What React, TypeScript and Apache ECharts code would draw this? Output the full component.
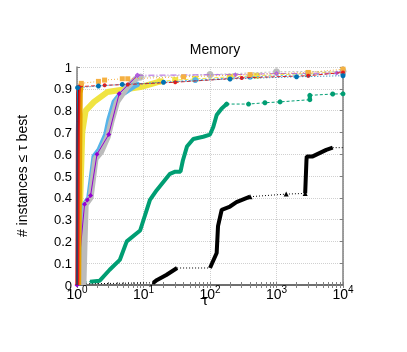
import React, { useEffect, useRef } from "react";
import * as echarts from "echarts";

// tick values
const xTickValues = [1, 2, 3, 4, 5, 6, 7, 8, 9, 10, 20, 30, 40, 50, 60, 70, 80, 90, 100, 200, 300, 400, 500, 600, 700, 800, 900, 1000, 2000, 3000, 4000, 5000, 6000, 7000, 8000, 9000, 10000];
const xLabelValues = [1, 10, 100, 1000, 10000];

// series data [tau, fraction]
const darkBlueDense = [[1, 0], [1, 0.75], [1.02, 0.9]];
const darkBlueTail = [[1.02, 0.905], [2.1, 0.913], [4.8, 0.92], [20, 0.93], [200, 0.945], [2000, 0.955], [10000, 0.96]];

const darkRedDense = [[1, 0], [1.005, 0.6], [1.02, 0.88], [1.03, 0.905]];

const redDense = [[1.01, 0], [1.02, 0.3], [1.03, 0.7], [1.05, 0.88], [1.07, 0.91]];
const redTail = [[1.07, 0.91], [2.6, 0.916], [5.8, 0.92], [30, 0.93], [300, 0.95], [3000, 0.96], [10000, 0.975]];

const orangeDense = [[1.06, 0], [1.09, 0.5], [1.12, 0.88], [1.16, 0.925]];
const orangeTail = [[1.16, 0.925], [2.1, 0.934], [2.6, 0.94], [4.8, 0.946], [5.8, 0.946], [40, 0.955], [400, 0.965], [3000, 0.975], [10000, 0.99]];

const yellowDense = [[1.09, 0], [1.12, 0.4], [1.2, 0.7], [1.27, 0.75], [1.35, 0.8], [1.8, 0.84], [2.85, 0.885], [9, 0.908], [18, 0.934]];
const yellowTail = [[18, 0.934], [30, 0.94], [60, 0.945], [200, 0.955], [500, 0.96], [3000, 0.97], [10000, 0.98]];

const skyDense = [[1.2, 0], [1.25, 0.2], [1.27, 0.367], [1.5, 0.4], [1.8, 0.59], [2.14, 0.62], [2.7, 0.69], [3.0, 0.757], [3.6, 0.84], [4.5, 0.877], [5.1, 0.88], [8, 0.92]];
const skyTail = [[8, 0.92], [60, 0.94], [400, 0.955], [3000, 0.965], [10000, 0.97]];

const grayDense = [[1.25, 0], [1.3, 0.2], [1.35, 0.37], [1.6, 0.4], [1.9, 0.58], [2.3, 0.61], [2.9, 0.68], [3.3, 0.75], [4.0, 0.84], [5.7, 0.908], [7.6, 0.946], [9, 0.954]];
const grayTail = [[9, 0.954], [100, 0.965], [1000, 0.978], [10000, 0.98]];

const purpleDense = [[1, 0], [1.3, 0.37], [1.43, 0.39], [1.6, 0.41], [2.0, 0.6], [3.0, 0.69], [4.3, 0.877], [8.1, 0.962]];
const purpleTail = [[8.1, 0.962], [240, 0.965], [1000, 0.97], [8000, 0.972], [10000, 0.985]];

const greenLead = [[1, 0.01], [1.57, 0.015]];
const greenDense = [[1.57, 0.015], [2.2, 0.02], [3.1, 0.07], [4.4, 0.115], [5.6, 0.2], [8.9, 0.25], [12.5, 0.39], [15.8, 0.435], [25, 0.51], [30, 0.52], [36, 0.52], [39, 0.57], [45, 0.635], [56, 0.67], [79, 0.68], [100, 0.69], [112, 0.725], [126, 0.78], [150, 0.81], [178, 0.83]];
const greenTail = [[178, 0.83], [380, 0.83], [670, 0.836], [1130, 0.84], [3170, 0.85]];
const greenDense2 = [[3170, 0.85], [3170, 0.87]];
const greenTail2 = [[3170, 0.87], [7000, 0.876], [10000, 0.877]];

const blackLead = [[1, 0.005], [14, 0.01]];
const blackDense1 = [[14, 0.01], [16, 0.023], [22, 0.046], [32, 0.078]];
const blackTail1 = [[32, 0.078], [100, 0.078]];
const blackDense2 = [[100, 0.078], [126, 0.147], [132, 0.27], [150, 0.345], [200, 0.36], [250, 0.38], [400, 0.405]];
const blackTail2 = [[400, 0.405], [1400, 0.417], [2700, 0.42]];
const blackDense3 = [[2700, 0.42], [2820, 0.57], [2850, 0.59], [3500, 0.59], [5600, 0.62], [7000, 0.63]];
const blackTail3 = [[7000, 0.63], [10000, 0.63]];

const solid = (data: number[][], color: string, width: number, z: number) => ({
  type: "line",
  data,
  showSymbol: false,
  symbol: "none",
  lineStyle: { color, width, type: "solid" },
  z,
});

const tail = (data: number[][], color: string, lineType: any, symbol: string, size: number, z: number) => ({
  type: "line",
  data,
  symbol,
  symbolSize: size,
  showSymbol: true,
  itemStyle: { color },
  lineStyle: { color, width: 1, type: lineType },
  z,
});

export default function App() {
  const ref = useRef<HTMLDivElement>(null);
  useEffect(() => {
    if (!ref.current) return;
    const chart = echarts.init(ref.current, undefined, { renderer: "svg" });
    const font = "Liberation Sans";
    const axisLine = { show: true, lineStyle: { color: "#808080", width: 1.5 } };
    const xLabelFmt = (v: number) => `{b|10}{s|${Math.round(Math.log10(v))}}`;
    const gridLine = { show: true, lineStyle: { color: "#d0d0d0", type: "dotted", width: 1 } };
    chart.setOption({
      animation: false,
      textStyle: { fontFamily: font },
      title: {
        text: "Memory",
        left: 210,
        textAlign: "center",
        top: 37,
        textStyle: { fontSize: 14, fontWeight: "normal", color: "#000", fontFamily: font },
      },
      grid: { left: 77, right: 64, top: 67, bottom: 67 },
      xAxis: [
        {
          type: "log",
          logBase: 10,
          min: 1,
          max: 10000,
          position: "bottom",
          name: "τ",
          nameLocation: "middle",
          nameGap: 7,
          nameMoveOverlap: false,
          nameTextStyle: { fontSize: 15, color: "#000", fontFamily: font, padding: [0, 10, 0, 0] },
          axisLine,
          axisTick: { show: true, inside: true, length: 3, customValues: xTickValues, lineStyle: { color: "#808080" } },
          axisLabel: {
            customValues: xLabelValues,
            formatter: xLabelFmt,
            margin: -1,
            rich: {
              b: { fontSize: 14, color: "#000", fontFamily: font, verticalAlign: "bottom", lineHeight: 17 },
              s: { fontSize: 10, color: "#000", fontFamily: font, verticalAlign: "top", lineHeight: 10 },
            },
          },
          splitLine: { show: false },
        },
        {
          type: "log",
          logBase: 10,
          min: 1,
          max: 10000,
          position: "top",
          axisLine: { show: true, lineStyle: { color: "#606060", width: 1.5 } },
          axisTick: { show: true, inside: true, length: 3, customValues: xTickValues, lineStyle: { color: "#808080" } },
          axisLabel: { show: false },
          splitLine: { show: false },
        },
        {
          type: "log",
          logBase: 10,
          min: 1,
          max: 10000,
          position: "top",
          axisLine: { show: false },
          axisTick: { show: false },
          axisLabel: { show: false },
          splitLine: gridLine,
        },
      ],
      yAxis: [
        {
          type: "value",
          min: 0,
          max: 1,
          interval: 0.1,
          position: "left",
          name: "# instances ≤ τ best",
          nameLocation: "middle",
          nameGap: 48,
          nameMoveOverlap: false,
          nameTextStyle: { fontSize: 14, color: "#000", fontFamily: font },
          axisLine,
          axisTick: { show: true, inside: true, length: 3, lineStyle: { color: "#808080" } },
          axisLabel: {
            fontSize: 13,
            color: "#000",
            margin: 5,
            formatter: (v: number) => (v === 0 || v === 1 ? String(v) : v.toFixed(1)),
          },
          splitLine: gridLine,
        },
        {
          type: "value",
          min: 0,
          max: 1,
          interval: 0.1,
          position: "right",
          axisLine: { show: true, lineStyle: { color: "#808080", width: 1.5 } },
          axisTick: { show: true, inside: true, length: 3, lineStyle: { color: "#808080" } },
          axisLabel: { show: false },
          splitLine: { show: false },
        },
      ],
      series: [
        // green
        tail(greenLead, "#009E73", [2, 2], "none", 0, 2),
        solid(greenDense, "#009E73", 4, 3),
        tail(greenTail, "#009E73", [3, 2], "circle", 5, 3),
        solid(greenDense2, "#009E73", 4, 3),
        tail(greenTail2, "#009E73", [3, 2], "circle", 5, 3),
        // black
        tail(blackLead, "#000000", [1, 2], "triangle", 3, 2),
        solid(blackDense1, "#000000", 4, 3),
        tail(blackTail1, "#000000", [1, 2], "none", 0, 3),
        solid(blackDense2, "#000000", 4, 3),
        tail(blackTail2, "#000000", [1, 2], "triangle", 5, 3),
        solid(blackDense3, "#000000", 4, 3),
        tail(blackTail3, "#000000", [1, 2], "none", 0, 3),
        // purple (under gray)
        solid(purpleDense, "#9400D3", 1, 5),
        // yellow
        solid(yellowDense, "#F0E442", 6, 4),
        tail(yellowTail, "#F0E442", [4, 2], "rect", 6, 4),
        // sky blue
        solid(skyDense, "#56B4E9", 5, 5),
        tail(skyTail, "#56B4E9", [2, 2], "circle", 6, 5),
        // gray
        solid(grayDense, "#BBBBBB", 6, 6),
        tail(grayTail, "#BBBBBB", [2, 2], "circle", 7, 6),
        // purple markers/tail
        tail(purpleDense, "#9400D3", "solid", "diamond", 5, 7),
        tail(purpleTail, "#B060E0", [6, 2, 1, 2], "diamond", 5, 7),
        // orange
        solid(orangeDense, "#E69F00", 5, 8),
        tail(orangeTail, "#F5B041", [1, 2], "rect", 5, 8),
        // red
        solid(redDense, "#E41A1C", 4, 9),
        tail(redTail, "#E41A1C", [4, 2], "circle", 4, 9),
        // dark red
        solid(darkRedDense, "#8B0000", 2, 10),
        // dark blue
        tail(darkBlueDense, "#0072B2", "solid", "none", 0, 11),
        tail(darkBlueTail, "#0072B2", [1, 2], "circle", 5, 11),
      ],
    });
    return () => chart.dispose();
  }, []);
  return <div ref={ref} style={{ position: "fixed", left: 0, top: 0, width: 407, height: 352 }} />;
}
